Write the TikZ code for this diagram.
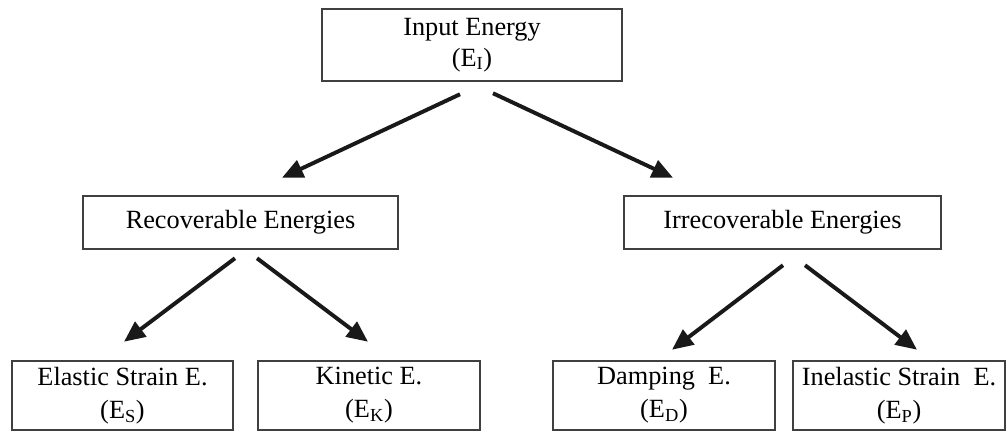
\documentclass[tikz,border=0pt]{standalone}
\usepackage{fontspec}
\setmainfont{Liberation Serif}
\usepackage{tikz}
\usetikzlibrary{arrows.meta,positioning}

\begin{document}
\begin{tikzpicture}[
    box/.style={draw=black!75, line width=1.8pt, rectangle, align=center, inner sep=0pt, font=\fontsize{18.7}{22}\selectfont},
    lowbox/.style={box, minimum height=1.725cm, font=\fontsize{18.7}{23.5}\selectfont},
    arrow/.style={-{Triangle[length=15pt,width=13pt]}, line width=2.8pt, color=black!90}
]
\useasboundingbox (0,0) rectangle (25.2,10.8);

% Top level
\node[box, minimum width=7.5cm, minimum height=1.8cm] (input) at (11.8, 9.675) {Input Energy\\(E\textsubscript{I})};

% Second level
\node[box, minimum width=7.875cm, minimum height=1.325cm] (recov) at (6.0125, 5.2375) {Recoverable Energies};
\node[box, minimum width=7.925cm, minimum height=1.325cm] (irrecov) at (19.5625, 5.2375) {Irrecoverable Energies};

% Bottom level
\node[lowbox, minimum width=5.525cm] (elastic) at (3.0625, 0.9125) {Elastic Strain E.\\(E\textsubscript{S})};
\node[lowbox, minimum width=5.55cm] (kinetic) at (9.225, 0.9125) {Kinetic E.\\(E\textsubscript{K})};
\node[lowbox, minimum width=5.55cm] (damping) at (16.6, 0.9125) {Damping~~E.\\(E\textsubscript{D})};
\node[lowbox, minimum width=5.3cm] (inelastic) at (22.475, 0.9125) {Inelastic Strain~~E.\\(E\textsubscript{P})};

\draw[arrow] ([shift={(-0.3,-0.3)}]input.south) -- ([shift={(1.0375,0.425)}]recov.north);
\draw[arrow] ([shift={(0.525,-0.275)}]input.south) -- ([shift={(-2.7375,0.425)}]irrecov.north);
\draw[arrow] ([shift={(-0.1375,-0.2)}]recov.south) -- ([shift={(0.0375,0.45)}]elastic.north);
\draw[arrow] ([shift={(0.4125,-0.2)}]recov.south) -- ([shift={(-0.025,0.45)}]kinetic.north);
\draw[arrow] ([shift={(0.0125,-0.375)}]irrecov.south) -- ([shift={(0.2,0.25)}]damping.north);
\draw[arrow] ([shift={(0.5625,-0.375)}]irrecov.south) -- ([shift={(0.45,0.25)}]inelastic.north);

\end{tikzpicture}
\end{document}
